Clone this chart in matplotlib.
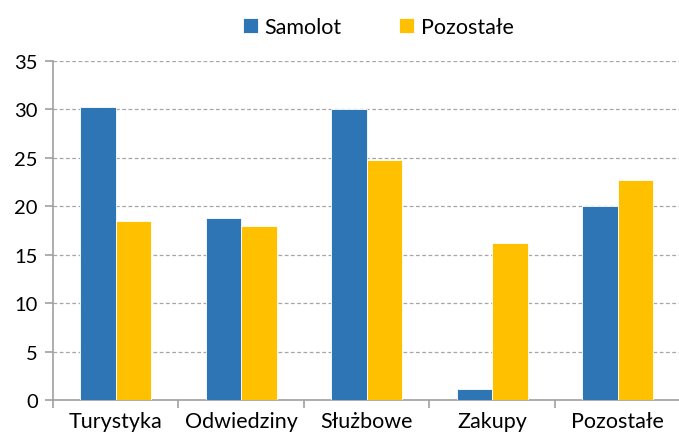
import numpy as np
import matplotlib
matplotlib.use("Agg")
import matplotlib.pyplot as plt

categories = ["Turystyka", "Odwiedziny", "Służbowe", "Zakupy", "Pozostałe"]
samolot = [30.3, 18.8, 30.0, 1.1, 20.0]
pozostale = [18.5, 18.0, 24.8, 16.2, 22.7]
series_names = ["Samolot", "Pozostałe"]
y_ticks = [0, 5, 10, 15, 20, 25, 30, 35]

plt.rcParams['font.family'] = ['Lato', 'DejaVu Sans']

fig = plt.figure(figsize=(6.79, 4.39), dpi=100)
ax = fig.add_axes([0.078, 0.0866, 0.924, 0.7722])

x = np.arange(len(categories))
w = 0.283
b1 = ax.bar(x - w / 2, samolot, w, color="#2E75B6", edgecolor="white", linewidth=0.6, label=series_names[0], zorder=3)
b2 = ax.bar(x + w / 2, pozostale, w, color="#FFC000", edgecolor="white", linewidth=0.6, label=series_names[1], zorder=3)

ax.set_xlim(-0.5, len(categories) - 0.5)
ax.set_ylim(0, 35)
ax.set_yticks(y_ticks)
ax.yaxis.grid(True, linestyle=(0, (3, 2)), color="#a6a6a6", linewidth=0.9, zorder=0)

# ticks at category boundaries
ax.set_xticks(np.arange(-0.5, len(categories), 1.0))
ax.set_xticklabels([])
ax.set_xticks(x, minor=True)
ax.set_xticklabels(categories, minor=True, fontsize=15.5)
ax.tick_params(axis="x", which="minor", length=0, pad=8)
ax.tick_params(axis="x", which="major", length=6, color="#a0a0a0", width=1.2)
ax.tick_params(axis="y", length=6, color="#a0a0a0", width=1.2, labelsize=14.5, pad=5)

for s in ["top", "right"]:
    ax.spines[s].set_visible(False)
for s in ["left", "bottom"]:
    ax.spines[s].set_color("#a0a0a0")
    ax.spines[s].set_linewidth(1.2)

fig.legend(handles=[b1, b2], labels=series_names, loc="center", bbox_to_anchor=(0.557, 0.936),
           ncol=2, frameon=False, fontsize=15.5, handlelength=0.7, handleheight=0.7,
           handletextpad=0.3, columnspacing=2.7)

fig.savefig("out.png", dpi=100)
